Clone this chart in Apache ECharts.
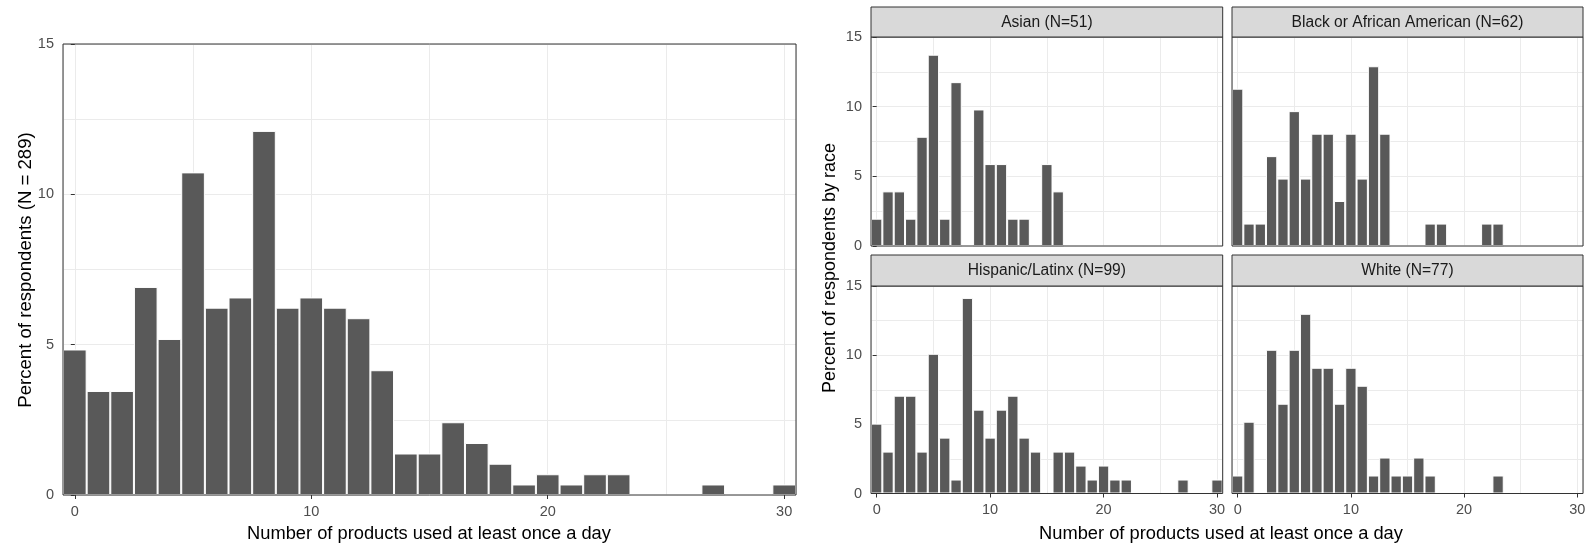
<!DOCTYPE html>
<html><head><meta charset="utf-8">
<script src="https://cdn.jsdelivr.net/npm/echarts@6/dist/echarts.min.js"></script>
<style>html,body{margin:0;padding:0;background:#fff}#c{width:1593px;height:546px}</style>
</head><body><div id="c"></div>
<script>
// ---- data ----
const products = [0,1,2,3,4,5,6,7,8,9,10,11,12,13,14,15,16,17,18,19,20,21,22,23,24,25,26,27,28,29,30];
const xTickValues = [0,10,20,30];
const yTickValues = [0,5,10,15];
const allRespondents = [4.84,3.46,3.46,6.92,5.19,10.73,6.23,6.57,12.11,6.23,6.57,6.23,5.88,4.15,1.38,1.38,2.42,1.73,1.04,0.35,0.69,0.35,0.69,0.69,0,0,0,0.35,0,0,0.35];
const asian    = [1.96,3.92,3.92,1.96,7.84,13.73,1.96,11.76,0,9.80,5.88,5.88,1.96,1.96,0,5.88,3.92,0,0,0,0,0,0,0,0,0,0,0,0,0,0];
const black    = [11.29,1.61,1.61,6.45,4.84,9.68,4.84,8.06,8.06,3.23,8.06,4.84,12.90,8.06,0,0,0,1.61,1.61,0,0,0,1.61,1.61,0,0,0,0,0,0,0];
const hispanic = [5.05,3.03,7.07,7.07,3.03,10.10,4.04,1.01,14.14,6.06,4.04,6.06,7.07,4.04,3.03,0,3.03,3.03,2.02,1.01,2.02,1.01,1.01,0,0,0,0,1.01,0,0,1.01];
const white    = [1.30,5.19,0,10.39,6.49,10.39,12.99,9.09,9.09,6.49,9.09,7.79,1.30,2.60,1.30,1.30,2.60,1.30,0,0,0,0,0,1.30,0,0,0,0,0,0,0];
const facetTitles = ['Asian (N=51)','Black or African American (N=62)','Hispanic/Latinx (N=99)','White (N=77)'];
const xTitle = 'Number of products used at least once a day';
const yTitleLeft = 'Percent of respondents (N = 289)';
const yTitleRight = 'Percent of respondents by race';

// ---- layout ----
const FONT = '"Liberation Sans", Arial, sans-serif';
const TICK_FS = 14.5;
const panels = [
  {left:63,  top:44,  width:733,   height:451,   data:allRespondents, yLab:true,  xLab:true},
  {left:871, top:37,  width:351.7, height:209,   data:asian,    yLab:true,  xLab:false, strip:facetTitles[0], stripTop:7},
  {left:1232,top:37,  width:351,   height:209,   data:black,    yLab:false, xLab:false, strip:facetTitles[1], stripTop:7},
  {left:871, top:286, width:351.7, height:207.5, data:hispanic, yLab:true,  xLab:true,  strip:facetTitles[2], stripTop:255},
  {left:1232,top:286, width:351,   height:207.5, data:white,    yLab:false, xLab:true,  strip:facetTitles[3], stripTop:255}
];

const grid = [], xAxis = [], yAxis = [], series = [], graphic = [];
panels.forEach((p, i) => {
  grid.push({left:p.left, top:p.top, width:p.width, height:p.height, containLabel:false});
  // grid-line axis (data axis)
  xAxis.push({type:'value', gridIndex:i, min:-0.5, max:30.5, splitNumber:6,
    axisLine:{show:false}, axisTick:{show:false}, axisLabel:{show:false},
    splitLine:{show:true, lineStyle:{color:'#EBEBEB', width:1}}});
  // tick/label axis
  xAxis.push({type:'value', gridIndex:i, min:-0.5, max:30.5, position:'bottom', z:5,
    axisLine:{show:false},
    axisTick:{show:p.xLab, length:4, customValues:xTickValues, lineStyle:{color:'#333333', width:1}},
    axisLabel:{show:p.xLab, customValues:xTickValues, margin:9, color:'#4D4D4D', fontSize:TICK_FS, fontFamily:FONT},
    splitLine:{show:false}});
  yAxis.push({type:'value', gridIndex:i, min:0, max:15, interval:5,
    axisLine:{show:false},
    axisTick:{show:p.yLab, length:4, lineStyle:{color:'#333333', width:1}},
    axisLabel:{show:p.yLab, margin:9, color:'#4D4D4D', fontSize:TICK_FS, fontFamily:FONT},
    splitLine:{show:true, lineStyle:{color:'#EBEBEB', width:1}},
    minorTick:{show:false, splitNumber:2},
    minorSplitLine:{show:true, lineStyle:{color:'#EBEBEB', width:1}}});
  series.push({type:'bar', xAxisIndex:2*i, yAxisIndex:i, barWidth:'100%',
    data: products.map((x, k) => [x, p.data[k]]),
    itemStyle:{color:'#595959', borderColor:'#ffffff', borderWidth:1},
    silent:true, animation:false});
  // panel border on top
  graphic.push({type:'rect', z:100, silent:true,
    shape:{x:p.left, y:p.top, width:p.width, height:p.height},
    style:{fill:'none', stroke:'#333333', lineWidth:1}});
  if (p.strip) {
    graphic.push({type:'rect', z:100, silent:true,
      shape:{x:p.left, y:p.stripTop, width:p.width, height:p.top - p.stripTop},
      style:{fill:'#D9D9D9', stroke:'#333333', lineWidth:1}});
    graphic.push({type:'text', z:101, silent:true,
      style:{text:p.strip, x:p.left + p.width/2, y:(p.stripTop + p.top)/2 + 0.5,
        align:'center', verticalAlign:'middle', fill:'#1A1A1A', fontSize:15.6, fontFamily:FONT}});
  }
});
// axis titles
const titleStyle = {fill:'#000000', fontFamily:FONT, align:'center', verticalAlign:'middle'};
graphic.push({type:'text', z:101, silent:true, style:Object.assign({text:xTitle, x:429, y:533.5, fontSize:18.3}, titleStyle)});
graphic.push({type:'text', z:101, silent:true, style:Object.assign({text:xTitle, x:1221, y:533.5, fontSize:18.3}, titleStyle)});
graphic.push({type:'text', z:101, silent:true, x:26, y:270, rotation:Math.PI/2, style:Object.assign({text:yTitleLeft, x:0, y:0, fontSize:18.6}, titleStyle)});
graphic.push({type:'text', z:101, silent:true, x:830, y:268, rotation:Math.PI/2, style:Object.assign({text:yTitleRight, x:0, y:0, fontSize:18}, titleStyle)});

const chart = echarts.init(document.getElementById('c'), null, {renderer:'canvas'});
chart.setOption({animation:false, backgroundColor:'#ffffff', grid, xAxis, yAxis, series, graphic});
</script></body></html>
